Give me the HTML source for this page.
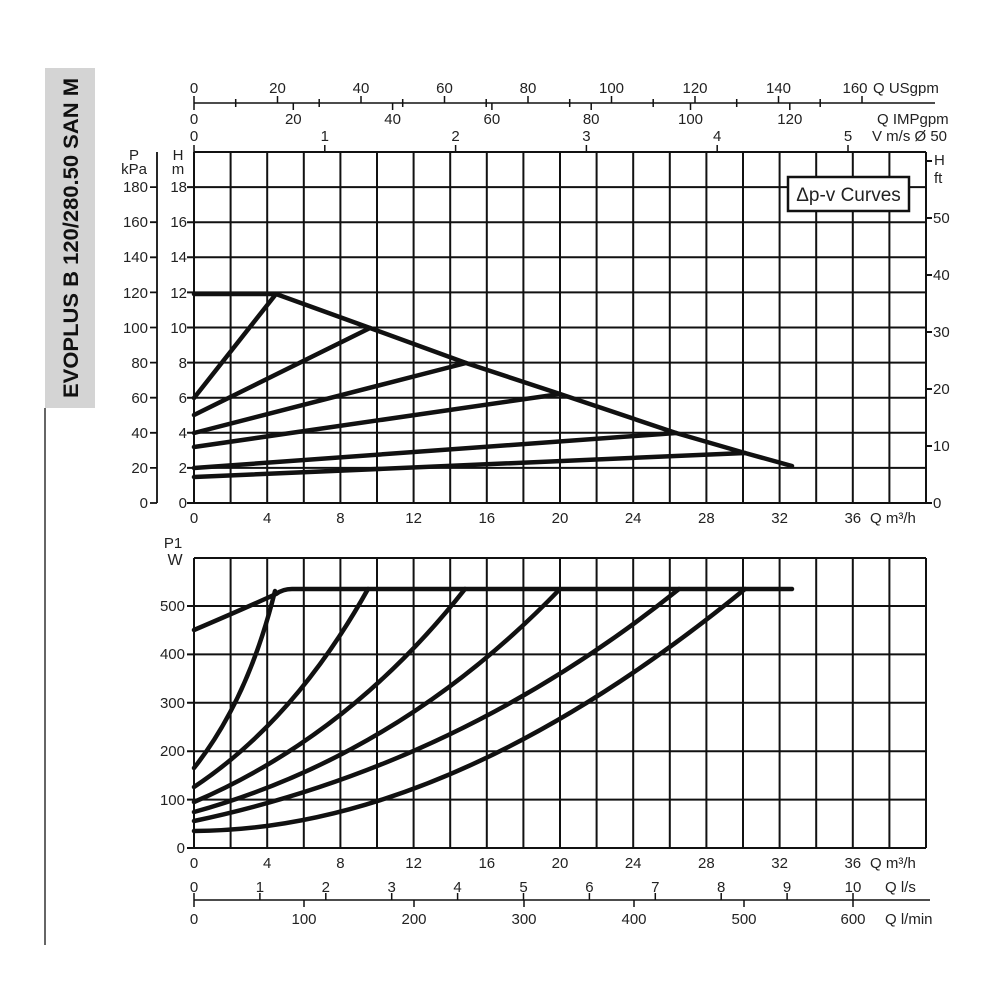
<!DOCTYPE html>
<html><head><meta charset="utf-8"><style>
html,body{margin:0;padding:0;background:#fff;}
svg{display:block;font-family:"Liberation Sans",sans-serif;}
text{fill:#222;font-size:15px;}
</style></head><body>
<svg width="1000" height="1000" viewBox="0 0 1000 1000" xmlns="http://www.w3.org/2000/svg">
<rect x="45" y="68" width="50" height="340" fill="#d4d4d4"/>
<text transform="translate(78,238) rotate(-90)" text-anchor="middle" style="font-size:21px;font-weight:bold;fill:#111" textLength="320" lengthAdjust="spacingAndGlyphs">EVOPLUS B 120/280.50 SAN M</text>
<line x1="45" y1="408" x2="45" y2="945" stroke="#333" stroke-width="1.5"/>

<g stroke="#111" stroke-width="2" fill="none">
<path d="M194,152V503M230.6,152V503M267.2,152V503M303.8,152V503M340.4,152V503M377,152V503M413.6,152V503M450.2,152V503M486.8,152V503M523.4,152V503M560,152V503M596.6,152V503M633.2,152V503M669.8,152V503M706.4,152V503M743,152V503M779.6,152V503M816.2,152V503M852.8,152V503M889.4,152V503M926,152V503"/>
<path d="M194,503H926M194,467.9H926M194,432.8H926M194,397.7H926M194,362.6H926M194,327.5H926M194,292.4H926M194,257.3H926M194,222.2H926M194,187.1H926M194,152H926"/>
<path d="M194,558V848M230.6,558V848M267.2,558V848M303.8,558V848M340.4,558V848M377,558V848M413.6,558V848M450.2,558V848M486.8,558V848M523.4,558V848M560,558V848M596.6,558V848M633.2,558V848M669.8,558V848M706.4,558V848M743,558V848M779.6,558V848M816.2,558V848M852.8,558V848M889.4,558V848M926,558V848"/>
<path d="M194,848H926M194,799.6H926M194,751.2H926M194,702.8H926M194,654.4H926M194,606H926M194,558H926"/>
<path d="M187,503H194M187,467.9H194M187,432.8H194M187,397.7H194M187,362.6H194M187,327.5H194M187,292.4H194M187,257.3H194M187,222.2H194M187,187.1H194"/>
<path d="M187,848H194M187,799.6H194M187,751.2H194M187,702.8H194M187,654.4H194M187,606H194"/>
<path d="M157,152V503M150,503H157M150,467.9H157M150,432.8H157M150,397.7H157M150,362.6H157M150,327.5H157M150,292.4H157M150,257.3H157M150,222.2H157M150,187.1H157" stroke-width="1.8"/>
<path d="M926,503H932M926,446H932M926,389H932M926,332H932M926,275H932M926,218H932M926,161H932"/>
</g>
<g stroke="#111" stroke-width="1.5" fill="none">
<path d="M194,103H935"/>
<path d="M194,96V110M235.7,99V107M277.5,96V103M319.2,99V107M361,96V103M402.7,99V107M444.5,96V103M486.2,99V107M528,96V103M569.7,99V107M611.5,96V103M653.2,99V107M695,96V103M736.7,99V107M778.5,96V103M820.2,99V107M862,96V103"/>
<path d="M293.3,103V110M392.6,103V110M491.9,103V110M591.2,103V110M690.5,103V110M789.8,103V110"/>
<path d="M194,145V152M324.8,145V152M455.6,145V152M586.4,145V152M717.2,145V152M848,145V152"/>
<path d="M194,900H930"/>
<path d="M194,893V907M259.9,893V900M325.8,893V900M391.7,893V900M457.6,893V900M523.5,893V900M589.4,893V900M655.3,893V900M721.2,893V900M787.1,893V900M853,893V907"/>
<path d="M304,900V907M414,900V907M524,900V907M634,900V907M744,900V907"/>
</g>
<g style="font-size:14px">
<text x="194" y="93" text-anchor="middle">0</text><text x="277.5" y="93" text-anchor="middle">20</text><text x="361" y="93" text-anchor="middle">40</text><text x="444.5" y="93" text-anchor="middle">60</text><text x="528" y="93" text-anchor="middle">80</text><text x="611.5" y="93" text-anchor="middle">100</text><text x="695" y="93" text-anchor="middle">120</text><text x="778.5" y="93" text-anchor="middle">140</text><text x="855" y="93" text-anchor="middle">160</text><text x="873" y="93">Q USgpm</text>
<text x="194" y="124" text-anchor="middle">0</text><text x="293.3" y="124" text-anchor="middle">20</text><text x="392.6" y="124" text-anchor="middle">40</text><text x="491.9" y="124" text-anchor="middle">60</text><text x="591.2" y="124" text-anchor="middle">80</text><text x="690.5" y="124" text-anchor="middle">100</text><text x="789.8" y="124" text-anchor="middle">120</text><text x="877" y="124">Q IMPgpm</text>
<text x="194" y="141" text-anchor="middle">0</text><text x="324.8" y="141" text-anchor="middle">1</text><text x="455.6" y="141" text-anchor="middle">2</text><text x="586.4" y="141" text-anchor="middle">3</text><text x="717.2" y="141" text-anchor="middle">4</text><text x="848" y="141" text-anchor="middle">5</text><text x="872" y="141">V m/s Ø 50</text>
<text x="134" y="160" text-anchor="middle">P</text><text x="134" y="174" text-anchor="middle">kPa</text>
<text x="178" y="160" text-anchor="middle">H</text><text x="178" y="174" text-anchor="middle">m</text>
<g text-anchor="end">
<text x="148" y="508">0</text><text x="148" y="473">20</text><text x="148" y="438">40</text><text x="148" y="403">60</text><text x="148" y="368">80</text><text x="148" y="333">100</text><text x="148" y="298">120</text><text x="148" y="262">140</text><text x="148" y="227">160</text><text x="148" y="192">180</text>
<text x="187" y="508">0</text><text x="187" y="473">2</text><text x="187" y="438">4</text><text x="187" y="403">6</text><text x="187" y="368">8</text><text x="187" y="333">10</text><text x="187" y="298">12</text><text x="187" y="262">14</text><text x="187" y="227">16</text><text x="187" y="192">18</text>
<text x="185" y="853">0</text><text x="185" y="805">100</text><text x="185" y="756">200</text><text x="185" y="708">300</text><text x="185" y="659">400</text><text x="185" y="611">500</text>
</g>
<text x="173" y="548" text-anchor="middle">P1</text><text x="175" y="565" text-anchor="middle" style="font-size:16px">W</text>
<text x="934" y="165">H</text><text x="934" y="183">ft</text>
<text x="933" y="508">0</text><text x="933" y="451">10</text><text x="933" y="394">20</text><text x="933" y="337">30</text><text x="933" y="280">40</text><text x="933" y="223">50</text>
<g text-anchor="middle">
<text x="194" y="523">0</text><text x="267.2" y="523">4</text><text x="340.4" y="523">8</text><text x="413.6" y="523">12</text><text x="486.8" y="523">16</text><text x="560" y="523">20</text><text x="633.2" y="523">24</text><text x="706.4" y="523">28</text><text x="779.6" y="523">32</text><text x="852.8" y="523">36</text>
<text x="194" y="868">0</text><text x="267.2" y="868">4</text><text x="340.4" y="868">8</text><text x="413.6" y="868">12</text><text x="486.8" y="868">16</text><text x="560" y="868">20</text><text x="633.2" y="868">24</text><text x="706.4" y="868">28</text><text x="779.6" y="868">32</text><text x="852.8" y="868">36</text>
<text x="194" y="892">0</text><text x="259.9" y="892">1</text><text x="325.8" y="892">2</text><text x="391.7" y="892">3</text><text x="457.6" y="892">4</text><text x="523.5" y="892">5</text><text x="589.4" y="892">6</text><text x="655.3" y="892">7</text><text x="721.2" y="892">8</text><text x="787.1" y="892">9</text><text x="853" y="892">10</text>
<text x="194" y="924">0</text><text x="304" y="924">100</text><text x="414" y="924">200</text><text x="524" y="924">300</text><text x="634" y="924">400</text><text x="744" y="924">500</text><text x="853" y="924">600</text>
</g>
<text x="870" y="523">Q m³/h</text><text x="870" y="868">Q m³/h</text><text x="885" y="892">Q l/s</text><text x="885" y="924">Q l/min</text>
</g>
<rect x="788" y="177" width="121" height="34" fill="#fff" stroke="#111" stroke-width="2.5"/>
<text x="848.5" y="201" text-anchor="middle" style="font-size:19px">Δp-v Curves</text>
<g stroke="#111" stroke-width="4.5" fill="none" stroke-linecap="round" stroke-linejoin="round">
<path d="M194,294H276L370,328L466,363L560,394L676,433L745,453L792,466"/>
<path d="M194,398L276,294"/>
<path d="M194,415L370,328"/>
<path d="M194,433L466,363"/>
<path d="M194,447L560,394"/>
<path d="M194,468L676,433"/>
<path d="M194,477L745,453"/>
<path d="M194,630Q250,606 276,594Q283,589 292,589H792"/>
<path d="M194,768Q248,700 275,591"/>
<path d="M194,787Q295,720 368,589"/>
<path d="M194,802Q350,735 465,589"/>
<path d="M194,812Q400,755 560,589"/>
<path d="M194,821Q460,765 679,589"/>
<path d="M194,831Q450,830 745,589"/>
</g>
</svg>
</body></html>
